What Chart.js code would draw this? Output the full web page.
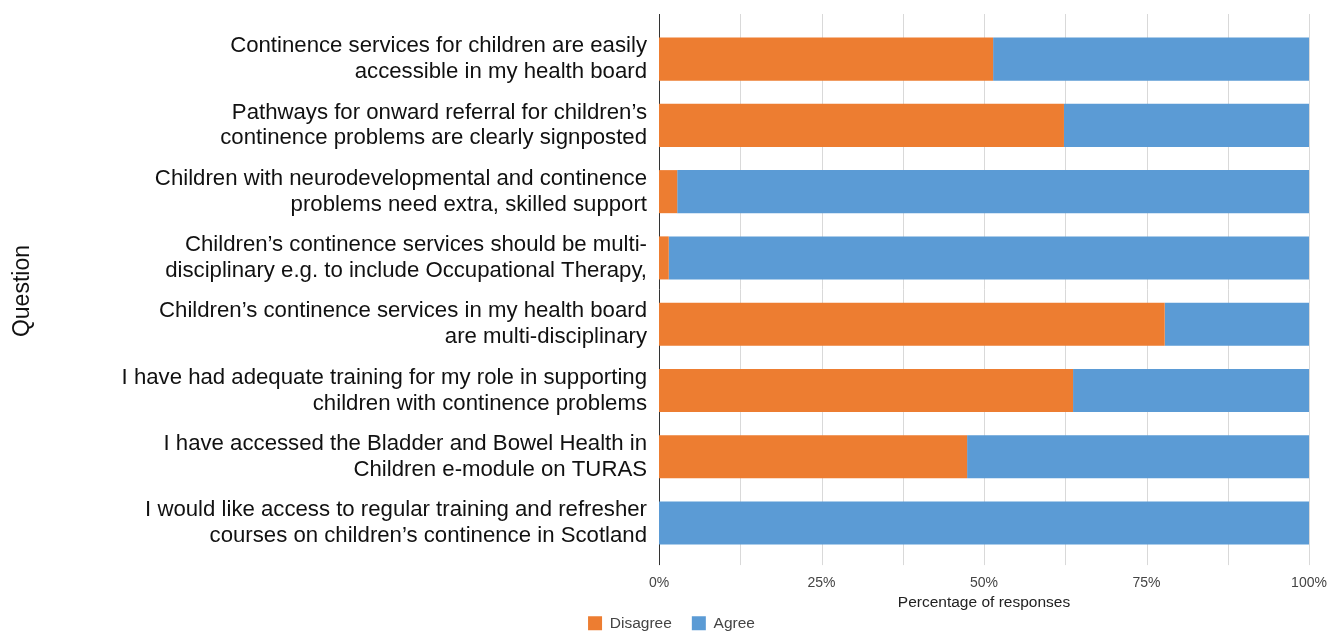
<!DOCTYPE html>
<html>
<head>
<meta charset="utf-8">
<script src="https://cdn.jsdelivr.net/npm/chart.js@4/dist/chart.umd.min.js"></script>
<style>
  html, body { margin: 0; padding: 0; background: #fff; }
  #wrap { width: 1343px; height: 631px; }
</style>
</head>
<body>
<div id="wrap"><canvas id="myChart"></canvas></div>
<script>
// ***** data *****
const questions = [
  ["Continence services for children are easily", "accessible in my health board"],
  ["Pathways for onward referral for children’s", "continence problems are clearly signposted"],
  ["Children with neurodevelopmental and continence", "problems need extra, skilled support"],
  ["Children’s continence services should be multi-", "disciplinary e.g. to include Occupational Therapy,"],
  ["Children’s continence services in my health board", "are multi-disciplinary"],
  ["I have had adequate training for my role in supporting", "children with continence problems"],
  ["I have accessed the Bladder and Bowel Health in", "Children e-module on TURAS"],
  ["I would like access to regular training and refresher", "courses on children’s continence in Scotland"]
]
const disagree = [51.4, 62.3, 2.8, 1.5, 77.8, 63.7, 47.4, 0]
const agree = [48.6, 37.7, 97.2, 98.5, 22.2, 36.3, 52.6, 100]
const tickLabels = ["0%", "25%", "50%", "75%", "100%"]

const orange = "#ED7D31"
const blue = "#5B9BD5"
const fontFamily = "'Liberation Sans', Arial, sans-serif"

// grid lines run a little past the bars, like the original
const extendedGrid = {
  id: "extendedGrid",
  beforeDatasetsDraw(chart) {
    const { ctx, chartArea, scales } = chart
    const top = chartArea.top - 12
    const bottom = chartArea.bottom + 9
    ctx.save()
    ctx.lineWidth = 1
    for (let v = 12.5; v <= 100; v += 12.5) {
      const x = Math.round(scales.x.getPixelForValue(v)) + 0.5
      ctx.strokeStyle = "#d9d9d9"
      ctx.beginPath()
      ctx.moveTo(x, top)
      ctx.lineTo(x, bottom)
      ctx.stroke()
    }
    const x0 = Math.round(scales.x.getPixelForValue(0)) + 0.5
    ctx.strokeStyle = "#333"
    ctx.beginPath()
    ctx.moveTo(x0, top)
    ctx.lineTo(x0, bottom)
    ctx.stroke()
    ctx.restore()
  }
}

// fixed overhang instead of the one measured from the labels
const setOverhang = (scale, right) => {
  scale.paddingTop = 0
  scale.paddingBottom = 0
  scale.paddingLeft = 0
  scale.paddingRight = right
}

const ctx = document.getElementById("myChart").getContext("2d")
const myChart = new Chart(ctx, {
  type: "bar",
  data: {
    labels: questions,
    datasets: [
      { label: "Disagree", data: disagree, backgroundColor: orange, borderWidth: 0 },
      { label: "Agree", data: agree, backgroundColor: blue, borderWidth: 0 }
    ]
  },
  options: {
    indexAxis: "y",
    responsive: true,
    maintainAspectRatio: false,
    animation: false,
    layout: { padding: { top: 26, right: 0, bottom: -10, left: 0 } },
    datasets: { bar: { categoryPercentage: 0.65, barPercentage: 1 } },
    scales: {
      x: {
        stacked: true,
        min: 0,
        max: 100,
        grid: { display: false, drawTicks: false },
        border: { display: false },
        afterFit: scale => setOverhang(scale, 34),
        ticks: {
          stepSize: 25,
          padding: 19,
          maxRotation: 0,
          color: "#444",
          font: { family: fontFamily, size: 14 },
          callback: (v, i) => tickLabels[i]
        },
        title: {
          display: true,
          text: "Percentage of responses",
          color: "#222",
          padding: { top: -17, bottom: -17 },
          font: { family: fontFamily, size: 15.5 }
        }
      },
      y: {
        stacked: true,
        grid: { display: false, drawTicks: false },
        border: { display: false },
        afterFit: scale => {
          setOverhang(scale, 0)
          scale.width = 659
        },
        ticks: {
          padding: 12,
          color: "#111",
          font: { family: fontFamily, size: 22.2, lineHeight: 1.17 }
        },
        title: {
          display: true,
          text: "Question",
          color: "#111",
          padding: { top: 9, bottom: 0 },
          font: { family: fontFamily, size: 23 }
        }
      }
    },
    plugins: {
      legend: {
        position: "bottom",
        labels: {
          boxWidth: 14,
          boxHeight: 14,
          padding: 20,
          color: "#444",
          font: { family: fontFamily, size: 15.5 }
        }
      },
      tooltip: { enabled: false }
    }
  },
  plugins: [extendedGrid]
})
</script>
</body>
</html>
